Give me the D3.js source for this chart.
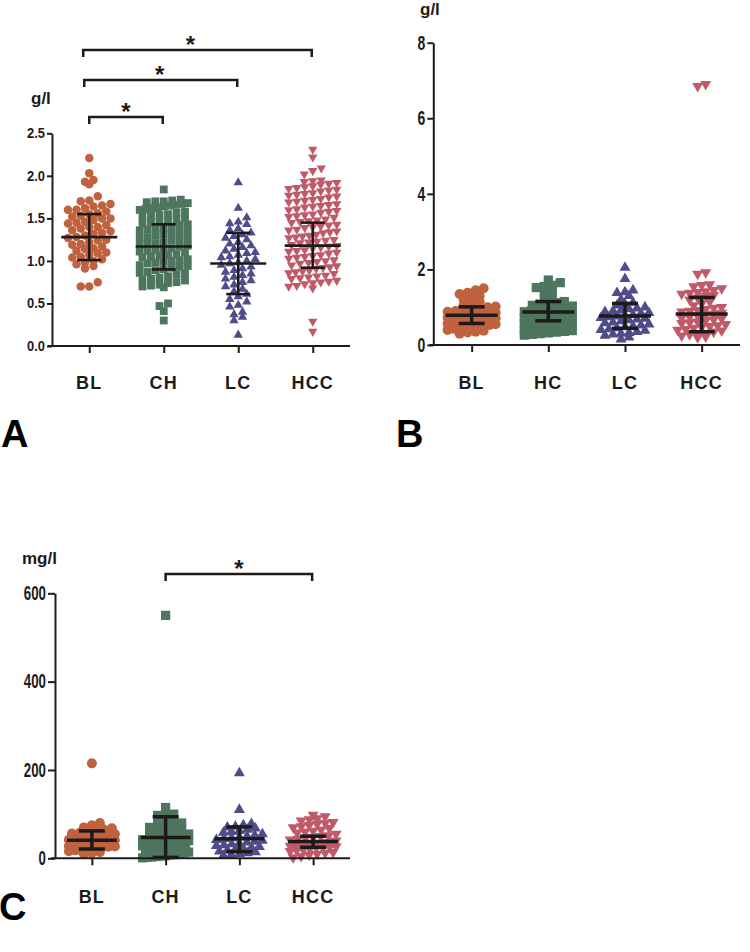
<!DOCTYPE html>
<html><head><meta charset="utf-8">
<script src="https://cdn.jsdelivr.net/npm/d3@7"></script>
<style>body{margin:0;background:#fff}svg{display:block}</style>
</head><body><svg id="c" width="750" height="952"></svg>
<script>
// ---------- DATA ----------
const categoriesA = ["BL", "CH", "LC", "HCC"];
const categoriesB = ["BL", "HC", "LC", "HCC"];
const categoriesC = ["BL", "CH", "LC", "HCC"];

const ticksA = [0, 0.5, 1.0, 1.5, 2.0, 2.5];
const ticksB = [0, 2, 4, 6, 8];
const ticksC = [0, 200, 400, 600];

// Panel A (g/l)
const aBL = [2.21,2.03,1.95,1.93,1.90,1.76,1.71,1.70,1.67,1.65,1.64,1.62,1.60,1.60,1.58,1.56,1.55,1.53,1.52,1.50,1.50,1.48,1.46,1.45,1.44,1.42,1.40,1.40,1.38,1.36,1.35,1.33,1.32,1.30,1.28,1.27,1.25,1.24,1.22,1.20,1.19,1.17,1.15,1.14,1.12,1.10,1.09,1.07,1.05,1.04,1.02,1.00,0.98,0.96,0.94,0.91,0.75,0.70,0.70];
const aCH = [1.84,1.72,1.71,1.70,1.70,1.69,1.68,1.67,1.66,1.65,1.64,1.63,1.62,1.61,1.60,1.58,1.57,1.55,1.54,1.53,1.52,1.50,1.49,1.47,1.46,1.45,1.44,1.43,1.42,1.40,1.39,1.38,1.37,1.36,1.35,1.33,1.32,1.31,1.30,1.28,1.27,1.26,1.25,1.24,1.22,1.21,1.20,1.19,1.18,1.17,1.15,1.14,1.13,1.12,1.11,1.10,1.08,1.07,1.06,1.05,1.04,1.02,1.01,1.00,0.99,0.98,0.97,0.95,0.94,0.93,0.92,0.90,0.89,0.87,0.86,0.85,0.84,0.82,0.80,0.79,0.78,0.77,0.75,0.74,0.72,0.71,0.70,0.69,0.50,0.47,0.41,0.30];
const aLC = [1.92,1.62,1.51,1.46,1.44,1.43,1.38,1.36,1.33,1.31,1.29,1.27,1.25,1.22,1.20,1.18,1.16,1.14,1.12,1.10,1.09,1.07,1.05,1.04,1.02,1.00,0.98,0.97,0.95,0.93,0.91,0.89,0.87,0.85,0.83,0.81,0.79,0.77,0.75,0.72,0.70,0.67,0.64,0.61,0.58,0.55,0.52,0.48,0.46,0.40,0.37,0.34,0.30,0.13];
const aHCC = [2.31,2.22,2.09,2.06,2.02,1.95,1.94,1.93,1.92,1.91,1.90,1.88,1.87,1.86,1.85,1.84,1.83,1.82,1.80,1.79,1.78,1.77,1.76,1.75,1.73,1.72,1.71,1.70,1.69,1.67,1.66,1.65,1.64,1.63,1.61,1.60,1.59,1.58,1.57,1.55,1.54,1.53,1.52,1.51,1.49,1.48,1.47,1.46,1.45,1.43,1.42,1.41,1.40,1.39,1.37,1.36,1.35,1.34,1.33,1.31,1.30,1.29,1.28,1.27,1.25,1.24,1.23,1.22,1.21,1.19,1.18,1.17,1.16,1.15,1.13,1.12,1.11,1.10,1.09,1.07,1.06,1.05,1.04,1.03,1.01,1.00,0.99,0.98,0.97,0.95,0.94,0.93,0.92,0.91,0.89,0.88,0.87,0.86,0.85,0.83,0.82,0.81,0.80,0.79,0.77,0.76,0.75,0.74,0.73,0.71,0.70,0.68,0.29,0.17];
const meanA = [1.28, 1.17, 0.97, 1.18];
const sdHiA = [1.55, 1.43, 1.33, 1.45];
const sdLoA = [1.01, 0.90, 0.61, 0.92];

// Panel B (g/l)
const bBL = [1.50,1.45,1.38,1.35,1.30,1.25,1.20,1.15,1.10,1.05,1.02,1.00,0.98,0.95,0.93,0.90,0.88,0.86,0.85,0.83,0.82,0.80,0.79,0.78,0.76,0.75,0.74,0.72,0.71,0.70,0.68,0.67,0.66,0.65,0.63,0.62,0.60,0.58,0.57,0.55,0.53,0.52,0.50,0.48,0.46,0.45,0.43,0.40,0.38,0.35,0.33,0.30];
const bHC = [1.72,1.65,1.58,1.55,1.52,1.45,1.40,1.30,1.22,1.15,1.12,1.10,1.08,1.05,1.03,1.00,0.98,0.96,0.94,0.92,0.90,0.88,0.86,0.84,0.82,0.80,0.78,0.76,0.74,0.72,0.70,0.68,0.66,0.64,0.62,0.60,0.58,0.56,0.54,0.52,0.50,0.48,0.46,0.44,0.42,0.40,0.38,0.36,0.34,0.32,0.30,0.28,0.26];
const bLC = [2.05,1.75,1.45,1.40,1.38,1.30,1.20,1.12,1.08,1.05,1.00,0.97,0.95,0.92,0.90,0.88,0.85,0.83,0.80,0.78,0.76,0.74,0.72,0.70,0.68,0.66,0.63,0.60,0.58,0.55,0.52,0.50,0.48,0.45,0.42,0.40,0.38,0.35,0.32,0.30,0.28,0.25,0.20,0.15];
const bHCC = [6.90,6.85,1.92,1.88,1.60,1.58,1.55,1.50,1.45,1.42,1.40,1.38,1.35,1.32,1.30,1.25,1.20,1.15,1.10,1.05,1.00,0.98,0.95,0.92,0.90,0.88,0.85,0.82,0.80,0.78,0.75,0.72,0.70,0.68,0.65,0.62,0.60,0.58,0.55,0.52,0.50,0.48,0.45,0.42,0.40,0.38,0.35,0.32,0.30,0.28,0.25,0.22,0.20];
const meanB = [0.79, 0.87, 0.77, 0.82];
const sdHiB = [1.01, 1.15, 1.10, 1.26];
const sdLoB = [0.57, 0.64, 0.44, 0.35];

// Panel C (mg/l)
const cBL = [215,80,75,70,68,65,62,60,58,56,55,53,52,50,48,47,46,45,44,43,42,41,40,39,38,37,36,35,34,33,32,31,30,29,28,27,26,25,24,22,20,18,16,14,12,10];
const cCH = [550,115,100,98,97,95,90,85,80,78,75,72,70,68,65,62,60,58,55,52,50,48,46,44,42,40,38,36,34,32,30,28,26,24,22,20,18,16,14,12,10,9,8,6,5,4,3,2,1];
const cLC = [193,110,78,75,72,70,68,65,62,60,58,55,52,50,48,46,44,42,40,38,36,34,32,30,28,26,24,22,20,18,16,14,12,10,8,6];
const cHCC = [98,95,90,88,85,82,80,78,75,72,70,68,65,62,60,58,55,52,50,48,46,44,42,40,38,36,35,34,33,32,31,30,29,28,27,26,25,24,22,20,18,16,14,12,10,8,5,2];
const meanC = [41, 47, 44, 38];
const sdHiC = [62, 94, 71, 50];
const sdLoC = [21, 2, 15, 25];

const colors = ["#c0623e", "#4e765f", "#4f4c8a", "#c05a69"];
const shapes = ["circle", "square", "triUp", "triDown"];

// ---------- DRAW ----------
const svg = d3.select("#c");
const ink = "#1e1a1a";
const wide = "'Liberation Sans',Arial,sans-serif";

function markerPath(shape, s) {
  if (shape === "circle") return d3.symbol(d3.symbolCircle, Math.PI * s * s / 4)();
  if (shape === "square") return d3.symbol(d3.symbolSquare, s * s * 0.85)();
  const a = s * 1.1, h = a * Math.sqrt(3) / 2;
  if (shape === "triUp") return `M0,${-h*2/3}L${a/2},${h/3}L${-a/2},${h/3}Z`;
  return `M0,${h*2/3}L${a/2},${-h/3}L${-a/2},${-h/3}Z`;
}

function layout(vals, y, cx, binPx, sp, maxW) {
  const pts = vals.map(v => ({v, py: y(v)}));
  const bins = d3.groups(pts, p => Math.floor(p.py / binPx));
  bins.forEach(([k, arr]) => {
    arr.sort((a, b) => a.v - b.v);
    const n = arr.length;
    let s = sp;
    if (n > 1 && (n - 1) * s > maxW) s = maxW / (n - 1);
    arr.forEach((p, i) => { p.px = cx + (i - (n - 1) / 2) * s; });
  });
  return pts;
}

function condense(sel, f) {
  sel.each(function () {
    const w = this.getComputedTextLength();
    this.setAttribute("textLength", w * f);
    this.setAttribute("lengthAdjust", "spacingAndGlyphs");
  });
}

function panel(cfg) {
  const g = svg.append("g");
  const y = d3.scaleLinear().domain(cfg.domain).range([cfg.y0, cfg.yTop]);
  const x = d3.scalePoint().domain(cfg.cats).range([cfg.xL, cfg.xR]).padding(0.5);

  // points
  cfg.series.forEach((vals, i) => {
    const pts = layout(vals, y, x(cfg.cats[i]), cfg.binPx, cfg.sp, cfg.maxW);
    g.append("g").selectAll("path").data(pts).join("path")
      .attr("d", markerPath(shapes[i], cfg.ms))
      .attr("transform", d => `translate(${d.px},${d.py})`)
      .attr("fill", colors[i]);
  });

  // error bars
  cfg.cats.forEach((c, i) => {
    const cx = x(c);
    const eb = g.append("g").attr("stroke", ink).attr("stroke-width", cfg.ebw).attr("fill", "none");
    eb.append("line").attr("x1", cx - cfg.mw).attr("x2", cx + cfg.mw).attr("y1", y(cfg.mean[i])).attr("y2", y(cfg.mean[i]));
    eb.append("line").attr("x1", cx).attr("x2", cx).attr("y1", y(cfg.hi[i])).attr("y2", y(cfg.lo[i]));
    eb.append("line").attr("x1", cx - cfg.cw).attr("x2", cx + cfg.cw).attr("y1", y(cfg.hi[i])).attr("y2", y(cfg.hi[i]));
    eb.append("line").attr("x1", cx - cfg.cw).attr("x2", cx + cfg.cw).attr("y1", y(cfg.lo[i])).attr("y2", y(cfg.lo[i]));
  });

  // y axis
  const ya = g.append("g").attr("transform", `translate(${cfg.xL},0)`)
    .call(d3.axisLeft(y).tickValues(cfg.ticks).tickFormat(cfg.fmt).tickSize(cfg.tick).tickSizeOuter(0).tickPadding(2));
  ya.select(".domain").attr("stroke", ink).attr("stroke-width", 2);
  ya.selectAll(".tick line").attr("stroke", ink).attr("stroke-width", 2);
  const tt = ya.selectAll(".tick text").attr("fill", ink).attr("font-family", wide)
    .attr("font-weight", "bold").attr("font-size", cfg.tickSize);
  condense(tt, cfg.cond);

  // x axis
  const xa = g.append("g").attr("transform", `translate(0,${cfg.y0})`)
    .call(d3.axisBottom(x).tickSize(7).tickSizeOuter(0).tickFormat(""));
  xa.select(".domain").attr("stroke", ink).attr("stroke-width", 2).attr("d", `M${cfg.xL - 4},0H${cfg.xR}`);
  xa.selectAll(".tick line").attr("stroke", ink).attr("stroke-width", 2);

  // category labels
  g.append("g").selectAll("text").data(cfg.cats).join("text")
    .attr("x", d => x(d)).attr("y", cfg.labY)
    .attr("text-anchor", "middle").attr("font-family", wide).attr("font-weight", "bold")
    .attr("font-size", 18).attr("letter-spacing", 1.2).attr("fill", ink).text(d => d);

  // unit
  g.append("text").attr("x", cfg.unitX).attr("y", cfg.unitY).attr("font-family", wide)
    .attr("font-weight", "bold").attr("font-size", 17).attr("fill", ink).text(cfg.unit);

  // panel letter
  g.append("text").attr("x", cfg.letX).attr("y", cfg.letY).attr("font-family", wide)
    .attr("font-weight", "bold").attr("font-size", 38).attr("fill", "#000").text(cfg.letter);

  // brackets
  (cfg.brackets || []).forEach(b => {
    const x1 = x(cfg.cats[b[0]]) + b[3], x2 = x(cfg.cats[b[1]]) - 1;
    g.append("path").attr("d", `M${x1},${b[2] + 7}V${b[2]}H${x2}V${b[2] + 7}`)
      .attr("fill", "none").attr("stroke", ink).attr("stroke-width", 2.5);
    g.append("text").attr("x", (x1 + x2) / 2 + b[4]).attr("y", b[2] + 3).attr("text-anchor", "middle")
      .attr("font-family", wide).attr("font-weight", "bold").attr("font-size", 24).attr("fill", ink).text("*");
  });
}

panel({
  cats: categoriesA, series: [aBL, aCH, aLC, aHCC], domain: [0, 2.5], ticks: ticksA, fmt: d3.format(".1f"),
  y0: 346, yTop: 133.3, xL: 52, xR: 350, binPx: 7, sp: 8.5, maxW: 48, ms: 8.5,
  mean: meanA, hi: sdHiA, lo: sdLoA, ebw: 2.6, mw: 28, cw: 12,
  tick: 5, tickSize: 14, cond: 0.92, labY: 389,
  unit: "g/l", unitX: 31, unitY: 104, letter: "A", letX: 1, letY: 447,
  brackets: [[0, 3, 50, -6, -7], [0, 2, 80, -5, -1], [0, 1, 117, 0, 0]]
});

panel({
  cats: categoriesB, series: [bBL, bHC, bLC, bHCC], domain: [0, 8], ticks: ticksB, fmt: d3.format("d"),
  y0: 345, yTop: 42.7, xL: 433.3, xR: 740, binPx: 6, sp: 8, maxW: 48, ms: 10,
  mean: meanB, hi: sdHiB, lo: sdLoB, ebw: 3.5, mw: 26, cw: 13,
  tick: 6, tickSize: 20, cond: 0.7, labY: 389,
  unit: "g/l", unitX: 420, unitY: 15, letter: "B", letX: 396, letY: 447,
  brackets: []
});

panel({
  cats: categoriesC, series: [cBL, cCH, cLC, cHCC], domain: [0, 600], ticks: ticksC, fmt: d3.format("d"),
  y0: 858.3, yTop: 593.3, xL: 55, xR: 350, binPx: 6, sp: 8, maxW: 46, ms: 10,
  mean: meanC, hi: sdHiC, lo: sdLoC, ebw: 3.5, mw: 25, cw: 13,
  tick: 7, tickSize: 19.5, cond: 0.68, labY: 903,
  unit: "mg/l", unitX: 22, unitY: 564, letter: "C", letX: -1, letY: 920,
  brackets: [[1, 3, 574, 0, 0]]
});
</script></body></html>
